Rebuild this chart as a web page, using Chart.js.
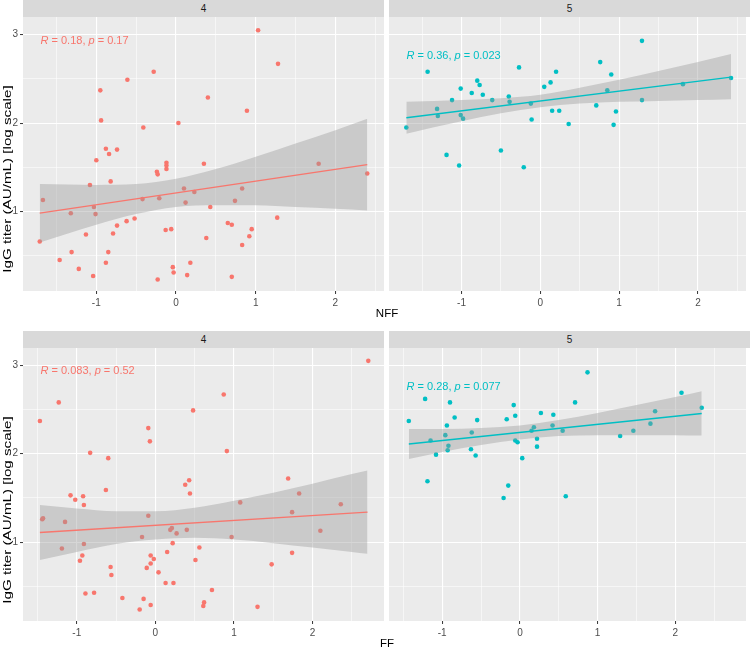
<!DOCTYPE html>
<html>
<head>
<meta charset="utf-8">
<script src="https://cdn.jsdelivr.net/npm/chart.js@4.4.1/dist/chart.umd.min.js"></script>
<style>
  body { margin: 0; background: #fff; font-family: "Liberation Sans", Arial, sans-serif; }
  #wrap { position: relative; width: 750px; height: 648px; overflow: hidden; }
  canvas { position: absolute; left: 0; top: 0; }
  .strip { position: absolute; background: #D9D9D9; color: #1A1A1A; font-size: 10px;
           text-align: center; line-height: 17px; height: 17px; }
  .cor { position: absolute; font-size: 11px; line-height: 13px; white-space: nowrap; }
  .xtitle { position: absolute; font-size: 11.5px; color: #000; transform: translate(-50%, -50%); white-space: nowrap; }
  .ytitle { position: absolute; font-size: 11.5px; color: #000; white-space: nowrap;
            transform: translate(-50%, -50%) rotate(-90deg) scaleX(1.32); }
</style>
</head>
<body>
<div id="wrap">
  <canvas id="c1" width="750" height="648"></canvas>
  <canvas id="c2" width="750" height="648"></canvas>
  <canvas id="c3" width="750" height="648"></canvas>
  <canvas id="c4" width="750" height="648"></canvas>

  <div class="strip" style="left:23px;top:0;width:361px;">4</div>
  <div class="strip" style="left:389px;top:0;width:361px;">5</div>
  <div class="strip" style="left:23px;top:331px;width:361px;">4</div>
  <div class="strip" style="left:389px;top:331px;width:361px;">5</div>

  <div class="cor" style="left:40.5px;top:33.5px;color:#F8766D;"><i>R</i> = 0.18, <i>p</i> = 0.17</div>
  <div class="cor" style="left:406.5px;top:48.5px;color:#00BFC4;"><i>R</i> = 0.36, <i>p</i> = 0.023</div>
  <div class="cor" style="left:40.5px;top:364px;color:#F8766D;"><i>R</i> = 0.083, <i>p</i> = 0.52</div>
  <div class="cor" style="left:406.5px;top:380px;color:#00BFC4;"><i>R</i> = 0.28, <i>p</i> = 0.077</div>

  <div class="xtitle" style="left:387px;top:313px;">NFF</div>
  <div class="xtitle" style="left:387px;top:643px;">FF</div>
  <div class="ytitle" style="left:6.5px;top:178.5px;">IgG titer (AU/mL) [log scale]</div>
  <div class="ytitle" style="left:6.5px;top:509.5px;">IgG titer (AU/mL) [log scale]</div>
</div>

<script>
// tick labels
const xTicks = [-1, 0, 1, 2];
const yTicks = [1, 2, 3];

// NFF, group 4
const nff4X = [1.03,1.28,-0.28,-0.61,-0.95,0.40,0.89,-0.94,0.03,-0.41,-0.88,-0.74,-0.84,-1.00,-0.12,-0.12,-0.12,0.35,-0.24,-0.23,1.79,2.40,-0.82,-1.08,-1.67,0.10,0.83,0.23,-0.21,-0.42,0.12,0.74,-1.03,0.43,-1.32,-1.01,1.27,-0.52,-0.62,0.65,0.70,-0.74,-0.13,-0.06,0.95,-1.13,-0.79,-1.71,0.38,0.92,0.83,-1.31,-0.85,-1.46,-0.88,0.18,-1.22,-0.04,-0.03,-1.04,0.14,0.70,-0.23];
const nff4Y = [3.05,2.67,2.58,2.49,2.37,2.29,2.14,2.03,2.00,1.95,1.71,1.70,1.65,1.58,1.55,1.52,1.48,1.54,1.45,1.42,1.54,1.43,1.34,1.30,1.13,1.26,1.26,1.22,1.15,1.14,1.10,1.12,1.05,1.05,0.98,0.97,0.93,0.92,0.89,0.87,0.85,0.84,0.79,0.80,0.80,0.74,0.75,0.66,0.70,0.72,0.62,0.54,0.54,0.45,0.42,0.42,0.35,0.37,0.31,0.27,0.28,0.26,0.23];
const nff4FitX = [-1.71, 2.40];
const nff4FitY = [0.98, 1.53];
const nff4BandX = [-1.71,-1,-0.5,0,0.5,1,1.5,2,2.40];
const nff4Lo = [0.65,0.85,0.97,1.05,1.07,1.07,1.05,1.03,1.01];
const nff4Hi = [1.31,1.30,1.31,1.37,1.48,1.62,1.77,1.92,2.05];

// NFF, group 5
const nff5X = [1.29,0.76,-1.43,-0.27,0.20,0.90,-0.80,0.13,-0.77,0.05,-1.01,0.85,-0.87,2.42,1.81,-0.73,-0.40,-1.12,-0.61,-0.39,1.29,-0.12,0.71,-1.31,0.15,0.24,0.96,-1.30,-1.01,-0.98,-0.11,-1.70,0.36,0.93,-0.50,-1.19,-1.03,-0.21];
const nff5Y = [2.93,2.69,2.58,2.63,2.58,2.55,2.48,2.46,2.43,2.41,2.39,2.37,2.34,2.51,2.44,2.32,2.30,2.26,2.26,2.24,2.26,2.22,2.20,2.16,2.14,2.14,2.13,2.08,2.09,2.05,2.04,1.95,1.99,1.98,1.69,1.64,1.52,1.50];
const nff5FitX = [-1.70, 2.42];
const nff5FitY = [2.06, 2.52];
const nff5BandX = [-1.70,-1,-0.5,0,0.5,1,1.5,2,2.42];
const nff5Lo = [1.88,2.02,2.11,2.18,2.22,2.24,2.25,2.26,2.27];
const nff5Hi = [2.24,2.26,2.28,2.32,2.40,2.49,2.59,2.69,2.78];

// FF, group 4
const ff4X = [2.71,0.87,-1.23,0.48,-1.47,-0.09,-0.07,0.91,-0.83,-0.60,1.69,0.43,0.38,-0.63,0.44,1.83,-1.08,-0.92,-1.02,-0.91,2.36,1.08,1.74,-0.09,-1.43,-1.44,-1.15,0.21,0.19,0.40,0.27,2.10,-0.17,0.97,0.22,-0.91,-1.19,0.56,0.15,1.74,-0.93,-0.06,-0.02,0.51,-0.96,-0.06,-0.57,-0.11,1.48,0.04,-0.56,0.13,0.23,0.72,-0.89,-0.78,-0.42,-0.15,0.62,0.61,-0.06,1.30,-0.20];
const ff4Y = [3.05,2.67,2.58,2.49,2.37,2.29,2.14,2.03,2.01,1.95,1.72,1.70,1.65,1.59,1.55,1.55,1.53,1.52,1.48,1.42,1.43,1.45,1.34,1.30,1.27,1.26,1.23,1.16,1.14,1.14,1.10,1.13,1.06,1.06,0.99,0.98,0.93,0.94,0.89,0.88,0.85,0.85,0.81,0.80,0.79,0.76,0.72,0.71,0.75,0.66,0.63,0.54,0.54,0.46,0.42,0.43,0.37,0.36,0.32,0.28,0.29,0.27,0.24];
const ff4FitX = [-1.47, 2.70];
const ff4FitY = [1.11, 1.34];
const ff4BandX = [-1.47,-1,-0.5,0,0.5,1,1.5,2,2.5,2.70];
const ff4Lo = [0.80,0.89,0.98,1.03,1.05,1.03,0.99,0.94,0.89,0.87];
const ff4Hi = [1.42,1.38,1.35,1.35,1.39,1.47,1.56,1.66,1.77,1.81];

// FF, group 5
const ff5X = [0.87,2.08,-1.22,-0.90,0.71,-0.08,2.34,1.74,0.27,-0.06,0.43,-0.84,-0.17,-0.55,-1.43,1.68,-0.94,0.42,0.18,0.55,1.46,0.15,-0.62,-0.96,1.29,0.22,-1.15,-0.06,-0.03,-0.92,0.22,-0.63,-0.93,-1.08,-0.57,0.03,-1.19,-0.15,0.59,-0.21];
const ff5Y = [2.92,2.69,2.62,2.58,2.58,2.55,2.52,2.48,2.46,2.43,2.44,2.41,2.39,2.38,2.37,2.34,2.32,2.32,2.30,2.26,2.26,2.26,2.24,2.21,2.20,2.17,2.15,2.15,2.13,2.09,2.08,2.05,2.04,1.99,1.98,1.95,1.69,1.64,1.52,1.50];
const ff5FitX = [-1.43, 2.34];
const ff5FitY = [2.11, 2.455];
const ff5BandX = [-1.43,-1,-0.5,0,0.5,1,1.5,2,2.34];
const ff5Lo = [1.94,2.02,2.10,2.16,2.20,2.21,2.21,2.21,2.205];
const ff5Hi = [2.28,2.28,2.29,2.32,2.38,2.46,2.55,2.64,2.705];

const RED = "#F8766D";
const TEAL = "#00BFC4";
const BAND = "rgba(153,153,153,0.4)";

Chart.defaults.font.family = '"Liberation Sans", Arial, sans-serif';
Chart.defaults.animation = false;

function pairs(xs, ys) {
  return xs.map((x, i) => ({ x: x, y: ys[i] }));
}

function isMajor(v, list) {
  return list.some((t) => Math.abs(t - v) < 1e-6);
}

const panelBg = {
  id: "panelBg",
  beforeDraw(chart) {
    const a = chart.chartArea;
    const ctx = chart.ctx;
    ctx.save();
    ctx.fillStyle = "#EBEBEB";
    ctx.fillRect(a.left, a.top, a.right - a.left, a.bottom - a.top);
    ctx.restore();
  },
};

function makePanel(id, p) {
  new Chart(document.getElementById(id), {
    type: "scatter",
    data: {
      datasets: [
        {
          type: "line",
          data: pairs(p.fitX, p.fitY),
          borderColor: p.color,
          borderWidth: 1.3,
          pointRadius: 0,
          fill: false,
          order: 0,
        },
        {
          type: "line",
          data: pairs(p.bandX, p.hi),
          borderWidth: 0,
          pointRadius: 0,
          backgroundColor: BAND,
          fill: "+1",
          cubicInterpolationMode: "monotone",
          order: 1,
        },
        {
          type: "line",
          data: pairs(p.bandX, p.lo),
          borderWidth: 0,
          pointRadius: 0,
          fill: false,
          cubicInterpolationMode: "monotone",
          order: 1,
        },
        {
          data: pairs(p.xs, p.ys),
          backgroundColor: p.color,
          borderWidth: 0,
          pointRadius: 2.3,
          order: 2,
        },
      ],
    },
    options: {
      responsive: false,
      layout: { padding: p.pad },
      plugins: { legend: { display: false }, tooltip: { enabled: false } },
      scales: {
        x: {
          type: "linear",
          min: p.xMin,
          max: p.xMax,
          border: { display: false },
          afterFit: (s) => { s.height = 20; },
          ticks: {
            stepSize: 0.5,
            includeBounds: false,
            autoSkip: false,
            maxRotation: 0,
            padding: 3,
            color: "#4D4D4D",
            font: { size: 10 },
            callback: (v) => (isMajor(v, xTicks) ? String(v) : ""),
          },
          grid: {
            color: "#FFFFFF",
            lineWidth: (c) => (c.tick && isMajor(c.tick.value, xTicks) ? 1.1 : 0.55),
            tickColor: (c) => (c.tick && isMajor(c.tick.value, xTicks) ? "#333333" : "rgba(0,0,0,0)"),
            tickWidth: 1,
            tickLength: 3,
          },
        },
        y: {
          type: "linear",
          min: p.yMin,
          max: p.yMax,
          border: { display: false },
          afterFit: (s) => { s.width = p.showY ? 23 : 0; },
          ticks: {
            display: p.showY,
            stepSize: 0.5,
            includeBounds: false,
            autoSkip: false,
            padding: 2,
            color: "#4D4D4D",
            font: { size: 10 },
            callback: (v) => (isMajor(v, yTicks) ? String(v) : ""),
          },
          grid: {
            color: "#FFFFFF",
            lineWidth: (c) => (c.tick && isMajor(c.tick.value, yTicks) ? 1.1 : 0.55),
            drawTicks: p.showY,
            tickColor: (c) => (c.tick && isMajor(c.tick.value, yTicks) ? "#333333" : "rgba(0,0,0,0)"),
            tickWidth: 1,
            tickLength: 3,
          },
        },
      },
    },
    plugins: [panelBg],
  });
}

makePanel("c1", {
  xs: nff4X, ys: nff4Y, fitX: nff4FitX, fitY: nff4FitY,
  bandX: nff4BandX, lo: nff4Lo, hi: nff4Hi, color: RED,
  xMin: -1.92, xMax: 2.61, yMin: 0.1, yMax: 3.2, showY: true,
  pad: { left: 0, right: 366, top: 17, bottom: 337 },
});
makePanel("c2", {
  xs: nff5X, ys: nff5Y, fitX: nff5FitX, fitY: nff5FitY,
  bandX: nff5BandX, lo: nff5Lo, hi: nff5Hi, color: TEAL,
  xMin: -1.92, xMax: 2.61, yMin: 0.1, yMax: 3.2, showY: false,
  pad: { left: 389, right: 1, top: 17, bottom: 337 },
});
makePanel("c3", {
  xs: ff4X, ys: ff4Y, fitX: ff4FitX, fitY: ff4FitY,
  bandX: ff4BandX, lo: ff4Lo, hi: ff4Hi, color: RED,
  xMin: -1.685, xMax: 2.91, yMin: 0.11, yMax: 3.195, showY: true,
  pad: { left: 0, right: 366, top: 348, bottom: 7 },
});
makePanel("c4", {
  xs: ff5X, ys: ff5Y, fitX: ff5FitX, fitY: ff5FitY,
  bandX: ff5BandX, lo: ff5Lo, hi: ff5Hi, color: TEAL,
  xMin: -1.685, xMax: 2.91, yMin: 0.11, yMax: 3.195, showY: false,
  pad: { left: 389, right: 1, top: 348, bottom: 7 },
});
</script>
</body>
</html>
